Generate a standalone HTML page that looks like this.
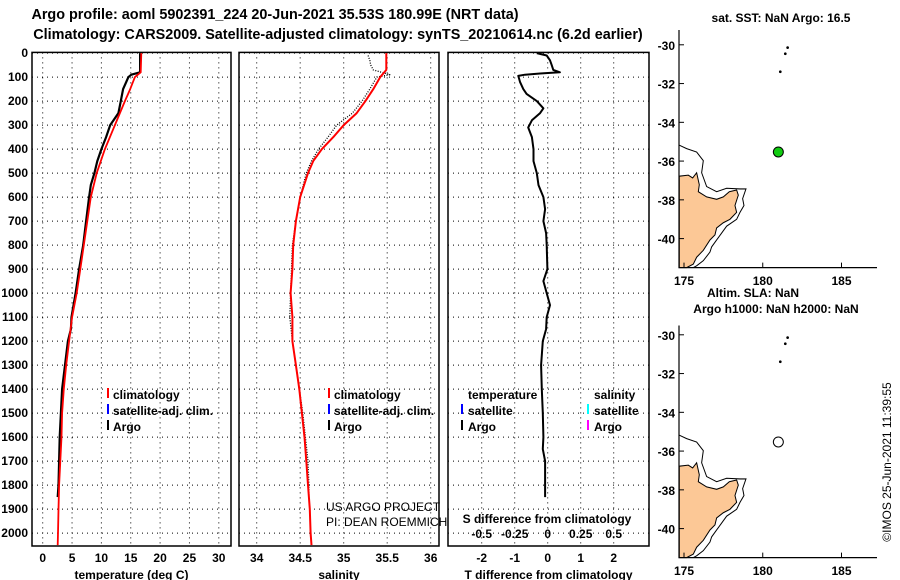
<!DOCTYPE html>
<html><head><meta charset="utf-8"><style>
html,body{margin:0;padding:0;background:#fff;}
svg{display:block;font-family:"Liberation Sans",sans-serif;}
.b{font-weight:bold;font-size:12px;}
.t{font-weight:bold;font-size:14.4px;}
</style></head><body>
<svg id="c" width="900" height="580" viewBox="0 0 900 580" xmlns="http://www.w3.org/2000/svg">
<text class="t" x="275" y="19" text-anchor="middle">Argo profile: aoml 5902391_224 20-Jun-2021 35.53S 180.99E (NRT data)</text>
<text class="t" x="338" y="39" text-anchor="middle">Climatology: CARS2009. Satellite-adjusted climatology: synTS_20210614.nc (6.2d earlier)</text>
<g id="g1"></g>
<g id="g2"></g>
<g id="g3"></g>
<g id="maps"></g>
<text transform="translate(891,462) rotate(-90)" text-anchor="middle" font-size="12">©IMOS 25-Jun-2021 11:39:55</text>
</svg>
<script>
// ---- data ----
const argoTDepth=[0,80,90,100,150,200,250,300,350,400,450,500,550,600,700,800,900,1000,1100,1150,1200,1300,1400,1500,1600,1700,1800,1850];
const argoTemp=[16.6,16.6,15.1,14.6,13.7,13.3,12.9,11.5,10.8,10.0,9.3,8.8,8.2,7.9,7.4,6.9,6.2,5.6,4.9,4.8,4.3,3.8,3.3,3.1,2.9,2.8,2.7,2.55];
const climTDepth=[0,80,100,150,200,300,400,500,600,700,800,900,1000,1100,1200,1300,1400,1500,1600,1700,1800,1900,2000,2050];
const climTemp=[16.8,16.7,15.7,14.9,14.0,12.3,10.6,9.2,8.2,7.6,7.0,6.4,5.8,5.0,4.5,4.0,3.6,3.3,3.2,3.0,2.8,2.7,2.6,2.55];
const climSDepth=[0,70,100,150,200,250,300,350,400,450,500,600,700,800,900,1000,1100,1200,1300,1400,1500,1600,1700,1800,1900,2000,2050];
const climSal=[35.49,35.49,35.42,35.34,35.25,35.15,35.0,34.88,34.75,34.65,34.59,34.50,34.45,34.42,34.41,34.39,34.41,34.41,34.45,34.49,34.52,34.55,34.57,34.59,34.61,34.62,34.63];
const argoSDepth=[10,30,50,70,90,100,150,200,250,300,350,400,450,500,600,700,800,900,1000,1100,1200,1300,1400,1500,1600,1700,1800,1850];
const argoSal=[35.28,35.30,35.31,35.34,35.53,35.38,35.30,35.21,35.10,34.92,34.82,34.71,34.63,34.57,34.50,34.45,34.41,34.40,34.39,34.38,34.41,34.45,34.49,34.53,34.56,34.59,34.60,34.60];
const dTDepth=[0,10,30,50,70,80,85,90,95,120,150,170,200,230,250,280,310,350,400,450,500,550,600,650,700,750,800,900,950,1000,1050,1100,1150,1200,1300,1400,1500,1600,1650,1700,1850];
const dTemp=[-0.33,-0.03,0.07,0.12,0.17,0.37,-0.23,-0.69,-0.89,-0.84,-0.74,-0.64,-0.33,-0.13,-0.23,-0.48,-0.59,-0.48,-0.43,-0.43,-0.33,-0.28,-0.13,-0.08,-0.13,-0.05,-0.03,-0.01,-0.13,-0.03,0.07,-0.03,-0.05,-0.15,-0.2,-0.18,-0.15,-0.13,-0.15,-0.08,-0.08];
const depthTicks=[0,100,200,300,400,500,600,700,800,900,1000,1100,1200,1300,1400,1500,1600,1700,1800,1900,2000];
const tempTicks=[0,5,10,15,20,25,30];
const salTicks=[34,34.5,35,35.5,36];
const salTickLabels=["34","34.5","35","35.5","36"];
const dTTicks=[-2,-1,0,1,2];
const dSTicks=[-0.5,-0.25,0,0.25,0.5];
const dSTickLabels=["-0.5","-0.25","0","0.25","0.5"];
const floatLon=[180.99], floatLat=[-35.53];

const NS='http://www.w3.org/2000/svg';
function mk(p,tag,at,txt){const e=document.createElementNS(NS,tag);for(const k in at)e.setAttribute(k,at[k]);if(txt!==undefined)e.textContent=txt;p.appendChild(e);return e;}
const Y0=53.1, YT=546, yD=d=>Y0+d*0.24;

function panel(g,x0,x1,xf,ticks,labels,title){
  const f=mk(g,'rect',{x:x0,y:52.4,width:x1-x0,height:YT-52.4,fill:'none',stroke:'#000','stroke-width':1.5});
  
  depthTicks.forEach(d=>{const l=mk(g,'line',{x1:x0,x2:x1,y1:yD(d),y2:yD(d),stroke:'#000','stroke-dasharray':'1,4','stroke-width':1});
    });
  ticks.forEach((v,i)=>{const x=xf(v);const l=mk(g,'line',{x1:x,x2:x,y1:52.4,y2:YT,stroke:'#000','stroke-dasharray':'1,4','stroke-width':1});
    
    const t=mk(g,'text',{x:x,y:562,'text-anchor':'middle',class:'b'},labels[i]);
    });
  const tt=mk(g,'text',{x:(x0+x1)/2,y:579,'text-anchor':'middle',class:'b'},title);
  
}
function line(g,xs,ds,xf,col,w,name,dash){
  const pts=xs.map((v,i)=>xf(v).toFixed(1)+','+yD(ds[i]).toFixed(1)).join(' ');
  const a={points:pts,fill:'none',stroke:col,'stroke-width':w,'stroke-linejoin':'round'};if(dash)a['stroke-dasharray']=dash;
  const p=mk(g,'polyline',a);
}
function legend(g,x,items){
  items.forEach((it,i)=>{const y=395+i*16;
    const m=mk(g,'rect',{x:x,y:y-7,width:2,height:10,fill:it[1]});
    if(it[0]){const t=mk(g,'text',{x:x+6,y:y+4,class:'b'},it[0]);}});
}
// panel 1
const g1=document.getElementById('g1');
const xT=v=>42.7+v*5.87;
panel(g1,32,231,xT,tempTicks,tempTicks.map(String),'temperature (deg C)');
depthTicks.forEach(d=>{const t=mk(g1,'text',{x:28,y:yD(d)+4,'text-anchor':'end',class:'b'},String(d));});
line(g1,argoTemp,argoTDepth,xT,'#000',2.2,'argo-temperature-line');
line(g1,climTemp,climTDepth,xT,'#f00',1.8,'climatology-temperature-line');
legend(g1,107,[['climatology','#f00'],['satellite-adj. clim.','#00f'],['Argo','#000']]);
// panel 2
const g2=document.getElementById('g2');
const xS=v=>256.7+(v-34)*87;
panel(g2,239,439,xS,salTicks,salTickLabels,'salinity');
line(g2,argoSal,argoSDepth,xS,'#000',1.3,'argo-salinity-dots','1,1.5');
line(g2,climSal,climSDepth,xS,'#f00',2,'climatology-salinity-line');
legend(g2,328,[['climatology','#f00'],['satellite-adj. clim.','#00f'],['Argo','#000']]);
[['US ARGO PROJECT',511],['PI: DEAN ROEMMICH',526]].forEach(a=>{const t=mk(g2,'text',{x:326,y:a[1],'font-size':12},a[0]);});
// panel 3
const g3=document.getElementById('g3');
const xD=v=>547.7+v*33;
const xDS=v=>547.7+v*132;
panel(g3,448,649,xD,dTTicks,dTTicks.map(String),'T difference from climatology');
line(g3,dTemp,dTDepth,xD,'#000',2,'tdiff-line');
dSTicks.forEach((v,i)=>{const t=mk(g3,'text',{x:xDS(v),y:538,'text-anchor':'middle',class:'b'},dSTickLabels[i]);});
{const t=mk(g3,'text',{x:547,y:523,'text-anchor':'middle',class:'b'},'S difference from climatology');}
{const t=mk(g3,'text',{x:468,y:399,class:'b'},'temperature');
 const s=mk(g3,'text',{x:594,y:399,class:'b'},'salinity');}
[['satellite','#00f',461,411],['Argo','#000',461,427],['satellite','#0ff',587,411],['Argo','#f0f',587,427]].forEach(a=>{
  const m=mk(g3,'rect',{x:a[2],y:a[3]-7,width:2,height:10,fill:a[1]});
  const t=mk(g3,'text',{x:a[2]+7,y:a[3]+4,class:'b'},a[0]);});
// maps
const maps=document.getElementById('maps');
const land="718,395 745,392 758,400 770,385 778,420 775,440 800,455 830,462 850,455 868,440 890,435 895,450 885,480 890,500 870,520 850,530 830,545 825,565 810,580 790,610 770,630 760,650 740,660 718,660";
const shelf="718,305 740,315 770,325 790,350 785,385 800,425 830,440 860,430 900,432 918,432 908,460 912,480 900,500 890,520 860,540 845,560 830,580 815,600 810,615 790,640 770,655 760,660";
[0,290].forEach((dy,mi)=>{
  const g=mk(maps,'g',{});
  const lonX=v=>684+(v-175)*15.75, latY=v=>44.8+dy+(-30-v)*19.38;
  const top=mi?325.5:30;
  const ax=mk(g,'polyline',{points:`679,${top} 679,${267.6+dy} 877,${267.6+dy}`,fill:'none',stroke:'#000','stroke-width':1.2});
  const lg=mk(g,'g',{transform:`translate(440,${40+dy}) scale(0.3333,0.3448)`});
  const lp=mk(lg,'polygon',{points:land,fill:'#fcc896',stroke:'#000','stroke-width':3});
  const sp=mk(lg,'polyline',{points:shelf,fill:'none',stroke:'#000','stroke-width':3});
  [[1043,22],[1036,40],[1021,92]].forEach(p=>{const c=mk(lg,'circle',{cx:p[0],cy:p[1],r:4,fill:'#000'});});
  [-30,-32,-34,-36,-38,-40].forEach(v=>{const y=latY(v);mk(g,'line',{x1:679,x2:684,y1:y,y2:y,stroke:'#000'});
    const t=mk(g,'text',{x:675,y:y+5,'text-anchor':'end',class:'b','font-size':13},String(v));});
  [175,180,185].forEach(v=>{const x=lonX(v);mk(g,'line',{x1:x,x2:x,y1:267.6+dy,y2:262.6+dy,stroke:'#000'});
    const t=mk(g,'text',{x:x,y:285+dy,'text-anchor':'middle',class:'b'},String(v));});
  const fd=mk(g,'circle',{cx:lonX(floatLon[0]),cy:latY(floatLat[0]),r:5,fill:mi?'#fff':'#1c1',stroke:'#000','stroke-width':1});
  
});
[['sat. SST: NaN Argo: 16.5',781,22,'sst-map-title'],['Altim. SLA: NaN',753,297,'sla-map-title'],['Argo h1000: NaN h2000: NaN',776,313,'height-map-title']].forEach(a=>{
  const t=mk(maps,'text',{x:a[1],y:a[2],'text-anchor':'middle',class:'b'},a[0]);});
</script>
</body></html>
